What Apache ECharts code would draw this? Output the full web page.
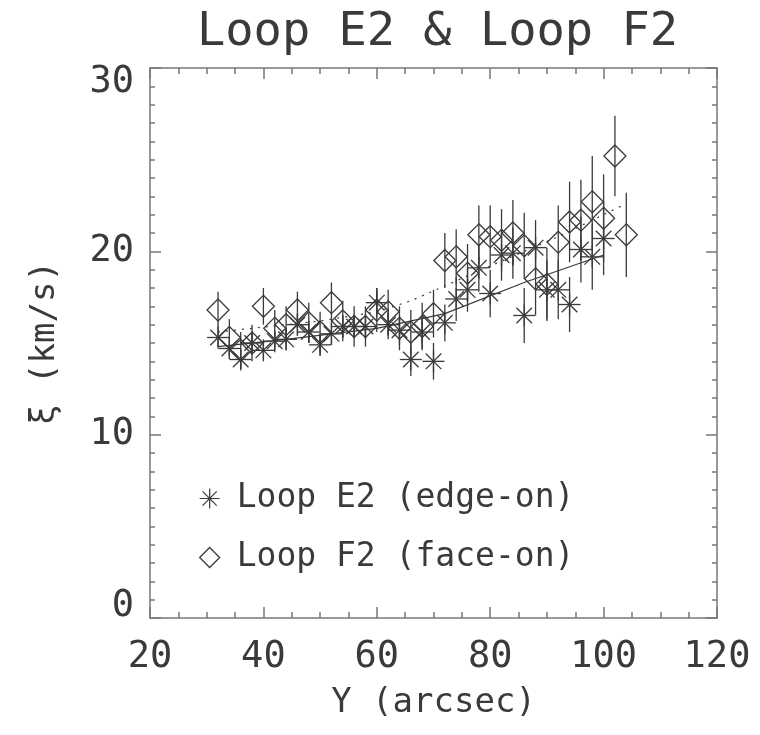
<!DOCTYPE html>
<html>
<head>
<meta charset="utf-8">
<script src="https://cdn.jsdelivr.net/npm/echarts@6/dist/echarts.min.js"></script>
<style>html,body{margin:0;padding:0;background:#fff}#c{width:760px;height:735px}</style>
</head>
<body>
<div id="c"></div>
<script>
// ---- data ----
const xTicks = [20, 40, 60, 80, 100, 120];
const yTicks = [0, 10, 20, 30];

const xE2 = [32,34,36,38,40,42,44,46,48,50,52,54,56,58,60,62,64,66,68,70,72,74,76,78,80,82,84,86,88,90,92,94,96,98,100];
const yE2 = [15.3,14.7,14.1,15.0,14.6,15.1,15.2,16.0,15.6,14.9,15.5,15.9,15.9,15.9,17.2,16.0,15.7,14.1,15.6,14.0,16.1,17.4,17.9,19.1,17.7,19.8,19.9,16.5,20.2,17.9,17.9,17.1,20.1,19.7,20.7];
const eE2 = [0.5,0.5,0.5,0.5,0.5,0.5,0.6,0.6,0.6,0.6,0.6,0.6,0.6,0.7,0.8,0.8,0.8,0.9,0.9,1.0,1.0,1.2,1.2,1.3,1.3,1.4,1.4,1.5,1.5,1.6,1.6,1.5,1.8,1.8,2.0];

const xF2 = [32,34,36,38,40,42,44,46,48,50,52,54,56,58,60,62,64,66,68,70,72,74,76,78,80,82,84,86,88,90,92,94,96,98,100,102,104];
const yF2 = [16.8,15.3,14.6,15.0,17.0,15.8,16.0,16.8,16.1,15.6,17.2,16.2,15.9,15.9,16.8,16.7,15.8,15.6,15.9,16.6,19.5,19.7,18.8,20.9,20.8,20.6,21.0,20.3,18.5,18.2,20.5,21.6,21.7,22.7,21.8,25.2,20.9];
const eF2 = [1.0,1.0,1.0,1.0,1.0,1.0,1.0,1.0,1.1,1.1,1.1,1.1,1.1,1.1,1.2,1.2,1.2,1.2,1.3,1.3,1.5,1.5,1.6,1.6,1.7,1.7,1.8,1.8,2.0,2.0,2.0,2.2,2.2,2.5,2.4,2.2,2.3];

const fitEx = [32,44,60,72,86,100];
const fitEy = [14.8,15.2,15.8,16.6,18.3,19.8];
const fitFx = [32,50,60,66,80,92,104];
const fitFy = [15.6,16.2,16.7,17.3,19.2,20.8,22.6];

const names = ['Loop E2 (edge-on)', 'Loop F2 (face-on)'];
const titleText = 'Loop E2 & Loop F2';

// ---- chart ----
const INK = '#3a3a3a';
const FONT = '"DejaVu Sans Mono", monospace';

function makeRender(kind) {
  return function (params, api) {
    const x = api.value(0), y = api.value(1), e = api.value(2);
    const c = api.coord([x, y]);
    const t = api.coord([x, y + e]);
    const b = api.coord([x, y - e]);
    const st = {stroke: INK, lineWidth: 1.3, fill: null};
    const ch = [{type: 'line', shape: {x1: c[0], y1: t[1], x2: c[0], y2: b[1]}, style: st}];
    const r = 11;
    if (kind === 'ast') {
      [0, 45, 90, 135].forEach(function (a) {
        const dx = r * Math.cos(a * Math.PI / 180), dy = r * Math.sin(a * Math.PI / 180);
        ch.push({type: 'line', shape: {x1: c[0] - dx, y1: c[1] - dy, x2: c[0] + dx, y2: c[1] + dy}, style: st});
      });
    } else {
      ch.push({type: 'polygon', shape: {points: [[c[0], c[1] - r], [c[0] + r, c[1]], [c[0], c[1] + r], [c[0] - r, c[1]]]}, style: {stroke: INK, lineWidth: 1.3, fill: 'transparent'}});
    }
    return {type: 'group', children: ch};
  };
}

const axisLineStyle = {color: '#777', width: 1.5};
function xAx(pos, showLabel) {
  return {
    type: 'value', position: pos, min: 20, max: 120, interval: 20,
    axisLine: {show: true, onZero: false, lineStyle: axisLineStyle},
    axisTick: {show: true, inside: true, length: 11, lineStyle: axisLineStyle},
    minorTick: {show: true, splitNumber: 4, length: 6, lineStyle: axisLineStyle},
    splitLine: {show: false},
    axisLabel: {show: showLabel, margin: 21, color: INK, fontFamily: FONT, fontSize: 37,
      formatter: function (v) { return xTicks.indexOf(v) >= 0 ? String(v) : ''; }},
    name: showLabel ? 'Y (arcsec)' : '', nameLocation: 'middle', nameGap: 68,
    nameTextStyle: {color: INK, fontFamily: FONT, fontSize: 34}
  };
}
function yAx(pos, showLabel) {
  return {
    type: 'value', position: pos, min: 0, max: 30, interval: 10,
    axisLine: {show: true, onZero: false, lineStyle: axisLineStyle},
    axisTick: {show: true, inside: true, length: 11, lineStyle: axisLineStyle},
    minorTick: {show: true, splitNumber: 10, length: 5, lineStyle: axisLineStyle},
    splitLine: {show: false},
    axisLabel: {show: showLabel, margin: 16, color: INK, fontFamily: FONT, fontSize: 37,
      formatter: function (v) {
        if (yTicks.indexOf(v) < 0) return '';
        if (v === 30) return '{t|' + v + '}';
        if (v === 0) return '{b|' + v + '}';
        return '{n|' + v + '}';
      },
      rich: {
        t: {padding: [28, 0, 0, 0], fontFamily: FONT, fontSize: 37, color: INK},
        b: {padding: [0, 0, 24, 0], fontFamily: FONT, fontSize: 37, color: INK},
        n: {fontFamily: FONT, fontSize: 37, color: INK}
      }},
    name: showLabel ? 'ξ (km/s)' : '', nameLocation: 'middle', nameGap: 88,
    nameTextStyle: {color: INK, fontFamily: FONT, fontSize: 34}
  };
}

const astIcon = 'path://M9.4,0h1.2v20h-1.2z M0,9.4h20v1.2h-20z M2.5,3.35L3.35,2.5L17.5,16.65L16.65,17.5z M16.65,2.5L17.5,3.35L3.35,17.5L2.5,16.65z';
const diaIcon = 'path://M10,0L20,10L10,20L0,10Z';

const chart = echarts.init(document.getElementById('c'), null, {renderer: 'canvas'});
chart.setOption({
  backgroundColor: '#fff',
  animation: false,
  title: {text: titleText, left: 192, top: 4,
    textStyle: {fontFamily: FONT, fontSize: 47, fontWeight: 'normal', color: INK}},
  grid: {left: 150, right: 43, top: 68, bottom: 117, containLabel: false},
  xAxis: [xAx('bottom', true), xAx('top', false)],
  yAxis: [yAx('left', true), yAx('right', false)],
  legend: {
    orient: 'vertical', left: 194, top: 477, itemWidth: 20, itemHeight: 20, itemGap: 26,
    textStyle: {fontFamily: FONT, fontSize: 33, color: INK, padding: [0, 0, 0, 12]},
    data: [
      {name: names[0], icon: astIcon, itemStyle: {color: INK, borderWidth: 0}},
      {name: names[1], icon: diaIcon, itemStyle: {color: 'transparent', borderColor: INK, borderWidth: 1.3}}
    ]
  },
  series: [
    {name: 'fitE', type: 'line', xAxisIndex: 0, yAxisIndex: 0, symbol: 'none', silent: true,
      data: fitEx.map(function (x, i) { return [x, fitEy[i]]; }),
      lineStyle: {color: INK, width: 1.2, type: 'solid'}, z: 1},
    {name: 'fitF', type: 'line', xAxisIndex: 0, yAxisIndex: 0, symbol: 'none', silent: true,
      data: fitFx.map(function (x, i) { return [x, fitFy[i]]; }),
      lineStyle: {color: INK, width: 1.2, type: [2, 6]}, z: 1},
    {name: names[0], type: 'custom', xAxisIndex: 0, yAxisIndex: 0, renderItem: makeRender('ast'),
      itemStyle: {color: INK},
      data: xE2.map(function (x, i) { return [x, yE2[i], eE2[i]]; }), z: 3},
    {name: names[1], type: 'custom', xAxisIndex: 0, yAxisIndex: 0, renderItem: makeRender('dia'),
      itemStyle: {color: INK},
      data: xF2.map(function (x, i) { return [x, yF2[i], eF2[i]]; }), z: 2}
  ]
});
</script>
</body>
</html>
